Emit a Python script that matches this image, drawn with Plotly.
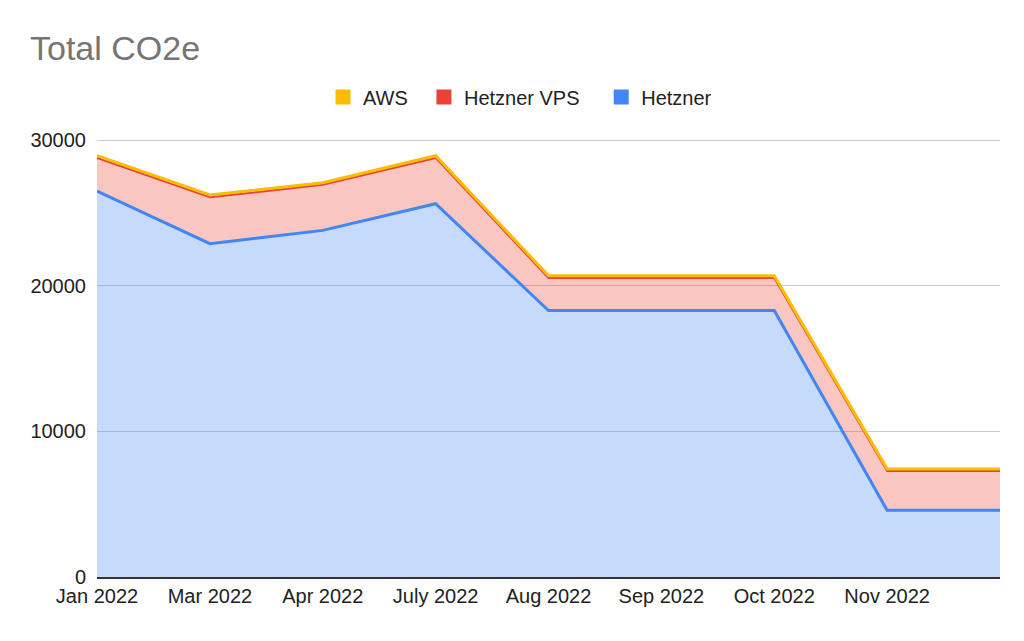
import plotly.graph_objects as go

months = ["Jan 2022", "Mar 2022", "Apr 2022", "July 2022", "Aug 2022",
          "Sep 2022", "Oct 2022", "Nov 2022", " "]
hetzner = [26520, 22910, 23820, 25650, 18310, 18310, 18310, 4580, 4580]
hetzner_vps = [2280, 3190, 3130, 3150, 2240, 2240, 2240, 2700, 2700]
aws = [150, 150, 150, 150, 150, 150, 150, 150, 150]
y_ticks = [0, 10000, 20000, 30000]

FONT = "Liberation Sans, Arial, sans-serif"
series = [
    ("Hetzner", hetzner, "#4285f4", "rgba(66,133,244,0.30)", 3, "Hetzner"),
    ("Hetzner VPS", hetzner_vps, "#ea4335", "rgba(234,67,53,0.30)", 2, "Hetzner VPS" + "\u00a0" * 3),
    ("AWS", aws, "#fbbc04", "rgba(251,188,4,0.30)", 3, "AWS" + "\u00a0" * 2),
]

fig = go.Figure()
for name, vals, col, fcol, lw, _ in series:
    fig.add_trace(go.Scatter(
        x=months, y=vals, name=name, mode="lines", stackgroup="one",
        line=dict(color=col, width=lw), fillcolor=fcol, showlegend=False,
        hoverinfo="x+y+name"))

# legend entries (square swatches) in the reference order
for name, vals, col, fcol, lw, label in reversed(series):
    fig.add_trace(go.Scatter(
        x=[None], y=[None], name=label, mode="markers",
        marker=dict(symbol="square", size=15, color=col), showlegend=True))

fig.update_layout(
    width=1024, height=641,
    paper_bgcolor="white", plot_bgcolor="white",
    margin=dict(l=89, r=32, t=131, b=72),
    font=dict(family=FONT, size=20, color="#222222"),
    title=dict(text="Total CO2e", x=22 / 1024, xanchor="left", xref="container",
               y=1 - 40 / 641, yanchor="middle", yref="container",
               font=dict(size=34, color="#757575", family=FONT)),
    legend=dict(orientation="h", xref="container", x=0.5, xanchor="center",
                yref="container", y=1 - 89 / 641, yanchor="middle",
                font=dict(size=20, color="#222222"), traceorder="normal",
                itemwidth=30),
    xaxis=dict(type="category", range=[0, 8], showgrid=False,
               showline=True, linecolor="#333333", linewidth=1.5,
               ticks="", tickfont=dict(size=20, color="#222222"),
               zeroline=False, layer="above traces"),
    yaxis=dict(range=[0, 30100], tickvals=y_ticks, tickformat="d",
               showgrid=True, gridcolor="#cccccc", gridwidth=1,
               zeroline=False, showline=False, ticks="",
               ticklabelstandoff=10,
               tickfont=dict(size=20, color="#222222")),
    showlegend=True,
)

fig.write_html("out.html")
